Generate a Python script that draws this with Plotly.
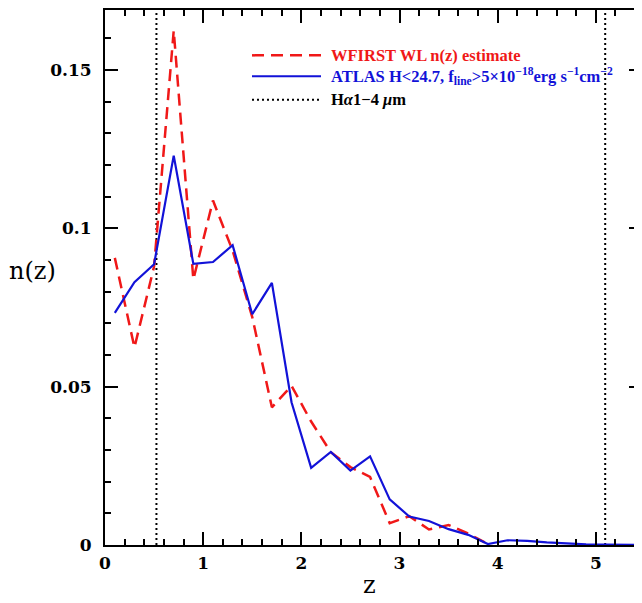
import plotly.graph_objects as go

# ---- data ----
Z_WFIRST = [0.1, 0.3, 0.5, 0.7, 0.9, 1.1, 1.3, 1.5, 1.7, 1.9, 2.1, 2.3, 2.5, 2.7,
            2.9, 3.1, 3.3, 3.5, 3.7, 3.9]
N_WFIRST = [0.0907, 0.0624, 0.0880, 0.1625, 0.0839, 0.1088, 0.0930, 0.0720, 0.0435,
            0.0503, 0.0390, 0.0293, 0.0246, 0.0215, 0.0069, 0.0091, 0.0049, 0.0063,
            0.0036, 0.0003]

Z_ATLAS = [0.1, 0.3, 0.5, 0.7, 0.9, 1.1, 1.3, 1.5, 1.7, 1.9, 2.1, 2.3, 2.5, 2.7,
           2.9, 3.1, 3.3, 3.5, 3.7, 3.9, 4.1, 4.3, 4.5, 4.7, 4.9, 5.1, 5.3, 5.5]
N_ATLAS = [0.0733, 0.0830, 0.0887, 0.1230, 0.0888, 0.0894, 0.0947, 0.0729, 0.0828,
           0.0451, 0.0244, 0.0294, 0.0235, 0.0280, 0.0144, 0.0090, 0.0076, 0.0050,
           0.0032, 0.0003, 0.0015, 0.0013, 0.0008, 0.0004, 0.0002, 0.0001, 0.0, 0.0]

HALPHA_Z = [0.524, 5.095]  # H-alpha at 1 and 4 micron

X_RANGE = [0, 5.47]
Y_RANGE = [0, 0.169]

LEGEND_LABELS = [
    "WFIRST WL n(z) estimate",
    "ATLAS H<24.7, f<sub>line</sub>>5×10<sup>−18</sup>erg s<sup>−1</sup>cm<sup>−2</sup>",
    "H<i>α</i>1−4 <i>μ</i>m",
]

RED = "#f01818"
BLUE = "#1212d8"

fig = go.Figure()

for zz in HALPHA_Z:
    fig.add_trace(go.Scatter(x=[zz, zz], y=Y_RANGE, mode="lines",
                             line=dict(color="black", width=2, dash="2px,3px"),
                             showlegend=False, hoverinfo="skip"))

fig.add_trace(go.Scatter(x=Z_WFIRST, y=N_WFIRST, mode="lines",
                         line=dict(color=RED, width=2.5, dash="12px,7px"),
                         name=LEGEND_LABELS[0], showlegend=False))
fig.add_trace(go.Scatter(x=Z_ATLAS, y=N_ATLAS, mode="lines",
                         line=dict(color=BLUE, width=2.2),
                         name=LEGEND_LABELS[1], showlegend=False))
# empty trace to carry the right-hand tick axis
fig.add_trace(go.Scatter(x=[None], y=[None], yaxis="y2", showlegend=False,
                         hoverinfo="skip"))

# ---- geometry (page has an 8px body margin) ----
OFF = 8
W, H = 642 - OFF, 603 - OFF
ML, MR, MT, MB = 105 - OFF, 0, 0, 603 - 545
PW, PH = W - ML - MR, H - MT - MB

def px_x(px):
    return (px - OFF - ML) / PW

def px_y(py):
    return (H - MB - (py - OFF)) / PH

legend_rows = [
    (53.5, RED, "12px,7px", 2.5, LEGEND_LABELS[0]),
    (74.5, BLUE, "solid", 2.2, LEGEND_LABELS[1]),
    (98, "black", "2px,3px", 2, LEGEND_LABELS[2]),
]
for ypx, col, dash, lw, txt in legend_rows:
    fig.add_shape(type="line", xref="paper", yref="paper",
                  x0=px_x(252), x1=px_x(321), y0=px_y(ypx), y1=px_y(ypx),
                  line=dict(color=col, width=lw, dash=dash))
    fig.add_annotation(xref="paper", yref="paper", x=px_x(329), y=px_y(ypx),
                       xanchor="left", yanchor="middle", showarrow=False,
                       text=txt,
                       font=dict(family="Liberation Serif", size=16.5,
                                 color=col, weight="bold"))

# axis titles
fig.add_annotation(xref="paper", yref="paper", x=px_x(32), y=px_y(270),
                   xanchor="center", yanchor="middle", showarrow=False,
                   text="n(z)", font=dict(family="DejaVu Serif", size=24, color="black"))
fig.add_annotation(xref="paper", yref="paper", x=px_x(369), y=px_y(585),
                   xanchor="center", yanchor="middle", showarrow=False,
                   text="z", font=dict(family="DejaVu Serif", size=24, color="black"))

tickfont = dict(family="DejaVu Serif", size=17, color="black", weight="bold")

fig.update_layout(
    width=W, height=H,
    margin=dict(l=ML, r=MR, t=MT, b=MB, pad=0),
    paper_bgcolor="white", plot_bgcolor="white",
    showlegend=False,
    xaxis=dict(range=X_RANGE, showgrid=False, zeroline=False,
               showline=True, linecolor="black", linewidth=2, mirror="ticks",
               ticks="inside", ticklen=13, tickwidth=2, tickcolor="black",
               dtick=1, tick0=0, tickfont=tickfont, ticklabelstandoff=2,
               minor=dict(ticks="inside", ticklen=6, tickwidth=1.5,
                          tickcolor="black", dtick=0.2, showgrid=False)),
    yaxis=dict(range=Y_RANGE, showgrid=False, zeroline=False,
               showline=True, linecolor="black", linewidth=2, mirror=False,
               ticks="inside", ticklen=13, tickwidth=2, tickcolor="black",
               dtick=0.05, tick0=0, tickfont=tickfont, ticklabelstandoff=8,
               minor=dict(ticks="inside", ticklen=6, tickwidth=1.5,
                          tickcolor="black", dtick=0.01, showgrid=False)),
    yaxis2=dict(range=Y_RANGE, overlaying="y", side="right", anchor="x",
                showgrid=False, zeroline=False, showline=False,
                showticklabels=False,
                ticks="inside", ticklen=13, tickwidth=2, tickcolor="black",
                dtick=0.05, tick0=0,
                minor=dict(ticks="inside", ticklen=6, tickwidth=1.5,
                           tickcolor="black", dtick=0.01, showgrid=False)),
)

fig.write_html("out.html")
